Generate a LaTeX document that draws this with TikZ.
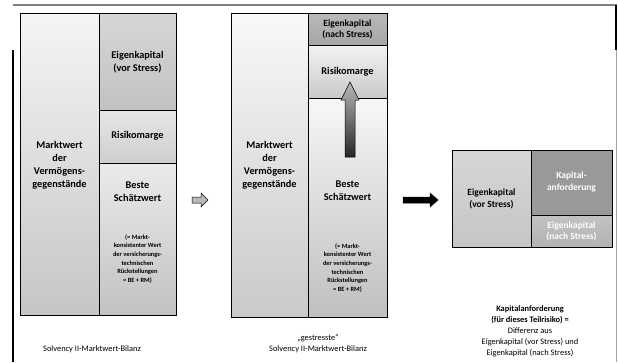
\documentclass[tikz,border=0pt]{standalone}
\usepackage{fontspec}
\setmainfont{Carlito}
\begin{document}
\begin{tikzpicture}[x=1pt,y=-1pt,
  cell/.style={draw=black, line width=0.6pt, inner sep=0pt, anchor=north west},
  lbl/.style={font=\bfseries\fontsize{10.3}{13}\selectfont, align=center, inner sep=0pt},
  small/.style={font=\bfseries\fontsize{6.4}{8.6}\selectfont, align=center, inner sep=0pt},
  captext/.style={font=\fontsize{8.4}{11}\selectfont, align=center, inner sep=0pt},
  blockarrow/.style={draw=black, line width=0.5pt}]
\useasboundingbox (0,0) rectangle (618,362);
\fill[white] (0,0) rectangle (618,362);
% scan frame
\draw[gray, line width=1.5pt] (13,5) -- (617,5);
\draw[black, line width=1.2pt] (13,50) -- (13,362);
\draw[black, line width=1.2pt] (616,5) -- (616,50);
\draw[gray!70, line width=0.8pt] (616,50) -- (616,362);

% ---- left panel ----
\node[cell, minimum width=79pt, minimum height=302pt, top color=gray!8, bottom color=gray!45] (mw1) at (20,13) {};
\node[cell, minimum width=77pt, minimum height=97pt, top color=gray!32, bottom color=gray!48] (ek1) at (99,13) {};
\node[cell, minimum width=77pt, minimum height=53pt, top color=gray!20, bottom color=gray!38] (rm1) at (99,110) {};
\node[cell, minimum width=77pt, minimum height=152pt, top color=gray!16, bottom color=gray!48] (be1) at (99,163) {};
\node[lbl] (mw1t) at (59.5,165) {Marktwert\\der\\Vermögens-\\gegenstände};
\node[lbl] (ek1t) at (137.5,62) {Eigenkapital\\(vor Stress)};
\node[lbl] (rm1t) at (137.5,136) {Risikomarge};
\node[lbl] (be1t) at (137.5,192) {Beste\\Schätzwert};
\node[small] (be1s) at (137.5,259) {(= Markt-\\konsistenter Wert\\der versicherungs-\\technischen\\Rückstellungen\\= BE + RM)};
\node[captext] (c1) at (92,349) {Solvency II-Marktwert-Bilanz};

% arrow 1
\draw[blockarrow, fill=gray!55] (192,197) -- (201,197) -- (201,193) -- (208,200) -- (201,207) -- (201,203) -- (192,203) -- cycle;

% ---- middle panel ----
\node[cell, minimum width=77pt, minimum height=304pt, top color=gray!5, bottom color=gray!42] (mw2) at (231,13) {};
\node[cell, minimum width=79pt, minimum height=32pt, top color=gray!55, bottom color=gray!70] (ekn2) at (308,13) {};
\node[cell, minimum width=79pt, minimum height=53pt, top color=gray!10, bottom color=gray!42] (rm2) at (308,45) {};
\node[cell, minimum width=79pt, minimum height=219pt, top color=gray!6, bottom color=gray!50] (be2) at (308,98) {};
\node[lbl] (mw2t) at (269.5,165) {Marktwert\\der\\Vermögens-\\gegenstände};
\node[lbl, font=\bfseries\fontsize{9.5}{11}\selectfont] (ekn2t) at (347.5,29) {Eigenkapital\\(nach Stress)};
\node[lbl] (rm2t) at (347.5,72) {Risikomarge};
\node[lbl] (be2t) at (347.5,191) {Beste\\Schätzwert};
\node[small] (be2s) at (347.5,268) {(= Markt-\\konsistenter Wert\\der versicherungs-\\technischen\\Rückstellungen\\= BE + RM)};
\node[captext] (c2) at (318,344) {„gestresste“\\Solvency II-Marktwert-Bilanz};
% up arrow
\draw[blockarrow, top color=gray!55, bottom color=black!85] (345,157) -- (345,100) -- (341,100) -- (350,82) -- (359,100) -- (355,100) -- (355,157) -- cycle;

% arrow 2
\draw[blockarrow, fill=black] (403,197) -- (430,197) -- (430,193) -- (438,200) -- (430,207) -- (430,203) -- (403,203) -- cycle;

% ---- right panel ----
\node[cell, minimum width=79pt, minimum height=97pt, top color=gray!32, bottom color=gray!45] (ek3) at (452,150) {};
\node[cell, minimum width=81pt, minimum height=65pt, fill=gray!80] (ka3) at (531,150) {};
\node[cell, minimum width=81pt, minimum height=32pt, top color=gray!48, bottom color=gray!60] (ekn3) at (531,215) {};
\node[lbl, font=\bfseries\fontsize{9.5}{11.5}\selectfont] (ek3t) at (491.5,199) {Eigenkapital\\(vor Stress)};
\node[lbl, text=white, font=\bfseries\fontsize{9.5}{11.5}\selectfont] (ka3t) at (571.5,182) {Kapital-\\anforderung};
\node[lbl, text=white, font=\bfseries\fontsize{9.5}{11}\selectfont] (ekn3t) at (571.5,231) {Eigenkapital\\(nach Stress)};
\node[captext] (c3) at (530,331) {\textbf{Kapitalanforderung}\\\textbf{(für dieses Teilrisiko) =}\\Differenz aus\\Eigenkapital (vor Stress) und\\Eigenkapital (nach Stress)};
\end{tikzpicture}
\end{document}
